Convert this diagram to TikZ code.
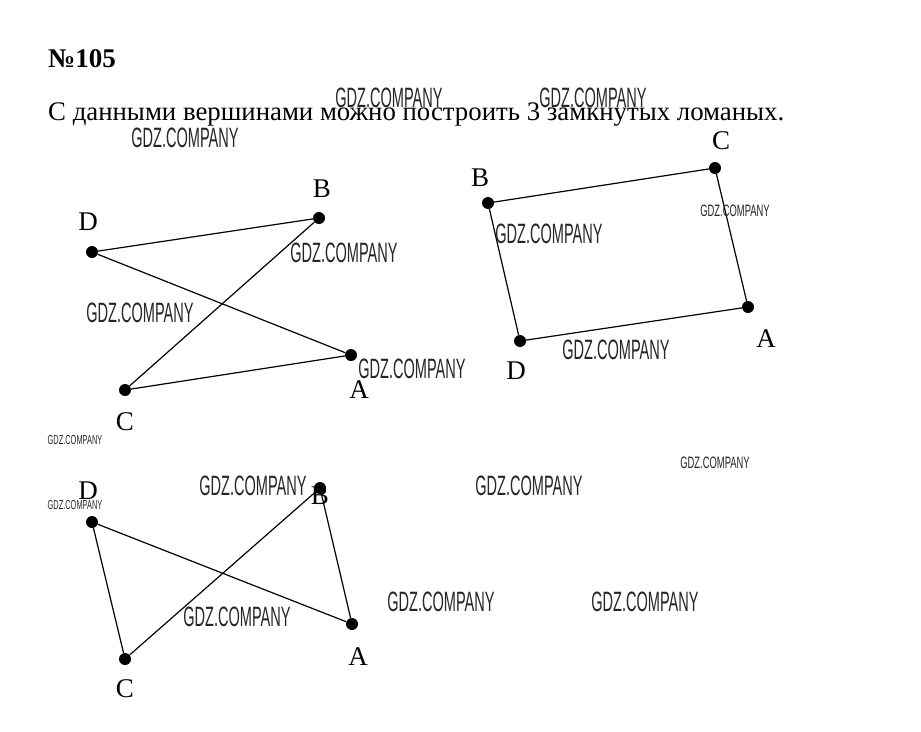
\documentclass[tikz,border=0pt]{standalone}
\usepackage{fontspec}
\setmainfont{Liberation Serif}
\newfontfamily\wmfamily{Liberation Sans}
\begin{document}
\begin{tikzpicture}[x=1pt,y=-1pt,
  edge/.style={line width=1.2pt},
  pt/.style={circle,fill=black,inner sep=0pt,minimum size=12pt},
  lbl/.style={font=\fontsize{27}{30}\selectfont,inner sep=0pt},
  wm/.style={font=\wmfamily\fontsize{28}{30}\selectfont,xscale=0.52,inner sep=0pt,text=black!85},
  wms/.style={font=\wmfamily\fontsize{16.5}{18}\selectfont,xscale=0.57,inner sep=0pt,text=black!85},
  wmt/.style={font=\wmfamily\fontsize{13}{14}\selectfont,xscale=0.57,inner sep=0pt,text=black!85}]
\useasboundingbox[fill=white] (0,0) rectangle (921,731);

\node[anchor=base west,inner sep=0pt,font=\bfseries\fontsize{27}{30}\selectfont] (title) at (48,67) {№105};
\node[anchor=base west,inner sep=0pt,font=\fontsize{26.8}{30}\selectfont] (text) at (48,120) {С данными вершинами можно построить 3 замкнутых ломаных.};

% figure 1
\node[pt] (D1) at (92,252) {};
\node[pt] (B1) at (319,218) {};
\node[pt] (A1) at (351,355) {};
\node[pt] (C1) at (125,390) {};
\draw[edge] (D1) -- (B1);
\draw[edge] (D1) -- (A1);
\draw[edge] (A1) -- (C1);
\draw[edge] (C1) -- (B1);
\node[lbl] (lD1) at (88,222) {D};
\node[lbl] (lB1) at (322,189) {B};
\node[lbl] (lA1) at (359,390) {A};
\node[lbl] (lC1) at (125,422) {C};

% figure 2
\node[pt] (B2) at (488,203) {};
\node[pt] (C2) at (715,168) {};
\node[pt] (A2) at (748,307) {};
\node[pt] (D2) at (520,341) {};
\draw[edge] (B2) -- (C2);
\draw[edge] (C2) -- (A2);
\draw[edge] (A2) -- (D2);
\draw[edge] (D2) -- (B2);
\node[lbl] (lB2) at (480,178) {B};
\node[lbl] (lC2) at (721,141) {C};
\node[lbl] (lA2) at (766,339) {A};
\node[lbl] (lD2) at (516,371) {D};

% figure 3
\node[pt] (D3) at (92,522) {};
\node[pt] (B3) at (320,488) {};
\node[pt] (A3) at (352,624) {};
\node[pt] (C3) at (125,659) {};
\draw[edge] (D3) -- (A3);
\draw[edge] (A3) -- (B3);
\draw[edge] (B3) -- (C3);
\draw[edge] (C3) -- (D3);
\node[lbl] (lD3) at (88,491) {D};
\node[lbl] (lB3) at (320,496) {B};
\node[lbl] (lA3) at (358,657) {A};
\node[lbl] (lC3) at (125,689) {C};

% watermarks
\node[wm] (w1) at (389,98) {GDZ.COMPANY};
\node[wm] (w2) at (593,98) {GDZ.COMPANY};
\node[wm] (w3) at (185,138) {GDZ.COMPANY};
\node[wm] (w4) at (344,253) {GDZ.COMPANY};
\node[wm] (w5) at (140,313) {GDZ.COMPANY};
\node[wm] (w6) at (412,369) {GDZ.COMPANY};
\node[wm] (w7) at (549,234) {GDZ.COMPANY};
\node[wms] (w8) at (735,211) {GDZ.COMPANY};
\node[wm] (w9) at (616,350) {GDZ.COMPANY};
\node[wmt] (w10) at (75,440) {GDZ.COMPANY};
\node[wms] (w11) at (715,463) {GDZ.COMPANY};
\node[wm] (w12) at (253,486) {GDZ.COMPANY};
\node[wm] (w13) at (529,486) {GDZ.COMPANY};
\node[wmt] (w14) at (75,505) {GDZ.COMPANY};
\node[wm] (w15) at (237,617) {GDZ.COMPANY};
\node[wm] (w16) at (441,602) {GDZ.COMPANY};
\node[wm] (w17) at (645,602) {GDZ.COMPANY};
\end{tikzpicture}
\end{document}
